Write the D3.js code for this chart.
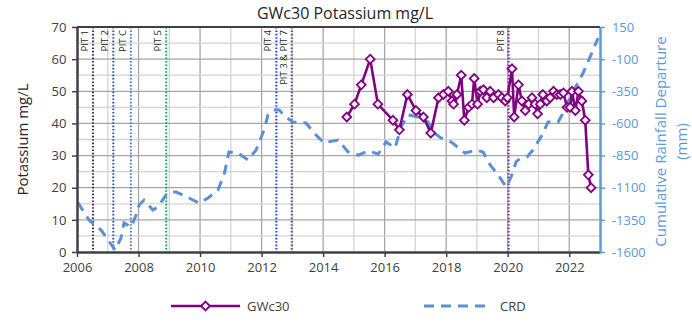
<!DOCTYPE html>
<html>
<head>
<meta charset="utf-8">
<script src="https://cdn.jsdelivr.net/npm/d3@7"></script>
<style>
  html, body { margin: 0; padding: 0; background: #fff; }
  svg { display: block; font-family: "Open Sans", "Liberation Sans", sans-serif; }
</style>
</head>
<body>
<svg id="chart" width="692" height="322"></svg>
<script>
// Potassium concentration at GWc30 (decimal year, mg/L)
const gwcYears = [2014.77, 2015.02, 2015.24, 2015.53, 2015.78, 2016.27, 2016.48, 2016.74, 2017.02, 2017.26,
  2017.50, 2017.75, 2017.91, 2018.07, 2018.19, 2018.24, 2018.35, 2018.49, 2018.59, 2018.73,
  2018.84, 2018.91, 2019.02, 2019.11, 2019.21, 2019.32, 2019.43, 2019.54, 2019.70, 2019.81,
  2019.92, 2019.99, 2020.14, 2020.21, 2020.35, 2020.46, 2020.57, 2020.68, 2020.79, 2020.89,
  2020.97, 2021.06, 2021.14, 2021.27, 2021.38, 2021.49, 2021.60, 2021.71, 2021.81, 2021.93,
  2022.03, 2022.09, 2022.20, 2022.30, 2022.41, 2022.52, 2022.62, 2022.71];
const gwcValues = [42, 46, 52, 60, 46, 41, 38, 49, 44, 42,
  37, 48, 49, 50, 47, 46, 49, 55, 41, 45,
  46, 54, 46, 50, 50.5, 48, 50, 48, 49, 48,
  47, 48, 57, 42, 52, 47, 44, 46, 48, 46,
  43, 46, 49, 47, 48, 50, 49, 49, 49.5, 45,
  45, 50, 44, 50, 47, 41, 24, 20];

// Cumulative rainfall departure (decimal year, mm)
const crdYears = [2006.02, 2006.39, 2006.78, 2007.24, 2007.43, 2007.53, 2007.76, 2007.92, 2008.02, 2008.18,
  2008.47, 2008.63, 2008.89, 2009.06, 2009.22, 2009.64, 2009.97, 2010.26, 2010.58, 2010.78,
  2010.94, 2011.23, 2011.56, 2011.82, 2012.08, 2012.21, 2012.40, 2012.57, 2012.79, 2013.02,
  2013.44, 2013.77, 2014.03, 2014.16, 2014.49, 2014.81, 2015.14, 2015.46, 2015.79, 2016.05,
  2016.34, 2016.53, 2016.76, 2017.09, 2017.41, 2017.57, 2017.83, 2018.16, 2018.61, 2018.97,
  2019.20, 2019.43, 2019.69, 2019.95, 2020.11, 2020.27, 2020.34, 2020.63, 2020.82, 2021.12,
  2021.31, 2021.64, 2021.80, 2021.96, 2022.19, 2022.45, 2022.68, 2022.84, 2022.94];
const crdValues = [-1213, -1351, -1429, -1584, -1491, -1374, -1406, -1312, -1234, -1196,
  -1273, -1250, -1157, -1133, -1133, -1180, -1219, -1180, -1118, -1001,
  -822, -830, -884, -807, -651, -534, -496, -496, -550, -589,
  -597, -690, -752, -744, -729, -822, -846, -814, -838, -744,
  -791, -628, -534, -550, -589, -667, -713, -744, -830, -807,
  -822, -923, -1001, -1094, -1017, -900, -884, -861, -807, -690,
  -589, -589, -519, -433, -324, -208, -83, 10, 64];

// Pit events marked on the time axis
const pitLabels = ["PIT 1", "PIT 2", "PIT C", "PIT 5", "PIT 4", "PIT 3 & PIT 7", "PIT 8"];
const pitYears = [2006.52, 2007.18, 2007.75, 2008.9, 2012.48, 2012.98, 2020.03];
const pitColors = ["#3f3151", "#2f5597", "#4a7ebb", "#00b050", "#1a3cf0", "#5f497a", "#7030a0"];

const xTicks = [2006, 2008, 2010, 2012, 2014, 2016, 2018, 2020, 2022];
const leftTicks = [0, 10, 20, 30, 40, 50, 60, 70];
const rightTicks = [-1600, -1350, -1100, -850, -600, -350, -100, 150];

const svg = d3.select("#chart");
const L = 77, R = 600, T = 27, B = 252;
const x = d3.scaleLinear().domain([2006, 2023]).range([L, R]);
const y = d3.scaleLinear().domain([0, 70]).range([B, T]);
const y2 = d3.scaleLinear().domain([-1600, 150]).range([B, T]);

const purple = "#800080";
const blue = "#5b8fd6";
const axisBlue = "#5b9bd5";
const plain = d => String(d);

// grid: yearly vertical lines, every 5 mg/L horizontal
const grid = svg.append("g");
d3.range(2007, 2023).forEach(yr => {
  grid.append("line").attr("x1", x(yr)).attr("x2", x(yr)).attr("y1", T).attr("y2", B)
    .attr("stroke", yr % 2 === 0 ? "#a6a6a6" : "#d4d4d4").attr("stroke-width", 1.3);
});
d3.range(5, 70, 5).forEach(v => {
  grid.append("line").attr("x1", L).attr("x2", R).attr("y1", y(v)).attr("y2", y(v))
    .attr("stroke", v % 10 === 0 ? "#a6a6a6" : "#d4d4d4").attr("stroke-width", 1.3);
});

// pit markers
const pits = svg.append("g");
pitYears.forEach((py, i) => {
  pits.append("line").attr("x1", x(py)).attr("x2", x(py)).attr("y1", T).attr("y2", B)
    .attr("stroke", pitColors[i]).attr("stroke-width", 2).attr("stroke-dasharray", "1.6,1.8");
  pits.append("text")
    .attr("transform", `translate(${x(py) - 5},${T + 3}) rotate(-90)`)
    .attr("text-anchor", "end").attr("font-size", 9.5).attr("fill", "#262626")
    .text(pitLabels[i]);
});

// CRD dashed line on the right axis
const crd = crdYears.map((d, i) => [d, crdValues[i]]);
svg.append("path").datum(crd)
  .attr("d", d3.line().x(d => x(d[0])).y(d => y2(d[1])))
  .attr("fill", "none").attr("stroke", blue).attr("stroke-width", 3)
  .attr("stroke-dasharray", "10,7");

// GWc30 series
const gwc = gwcYears.map((d, i) => [d, gwcValues[i]]);
svg.append("path").datum(gwc)
  .attr("d", d3.line().x(d => x(d[0])).y(d => y(d[1])))
  .attr("fill", "none").attr("stroke", purple).attr("stroke-width", 2.6);
const diamond = d3.symbol().type(d3.symbolDiamond2).size(50);
svg.append("g").selectAll("path").data(gwc).join("path")
  .attr("d", diamond)
  .attr("transform", d => `translate(${x(d[0])},${y(d[1])})`)
  .attr("fill", "#fbf3fb").attr("stroke", purple).attr("stroke-width", 1.8);

// frame: top and bottom/left dark, right axis blue
svg.append("line").attr("x1", L).attr("x2", R).attr("y1", T).attr("y2", T)
  .attr("stroke", "#404040").attr("stroke-width", 2);

const xAxis = svg.append("g").attr("transform", `translate(0,${B})`)
  .call(d3.axisBottom(x).tickValues(xTicks).tickFormat(plain).tickSize(5).tickSizeOuter(0));
xAxis.select(".domain").attr("stroke", "#404040").attr("stroke-width", 2.5);
xAxis.selectAll(".tick line").attr("stroke", "#404040").attr("stroke-width", 1.5);
xAxis.selectAll(".tick text").attr("font-size", 13).attr("fill", "#404040")
  .attr("font-family", "Open Sans, sans-serif").attr("dy", "0.9em");

const yAxis = svg.append("g").attr("transform", `translate(${L},0)`)
  .call(d3.axisLeft(y).tickValues(leftTicks).tickFormat(plain).tickSize(5).tickSizeOuter(0));
yAxis.select(".domain").attr("stroke", "#404040").attr("stroke-width", 2.5);
yAxis.selectAll(".tick line").attr("stroke", "#404040").attr("stroke-width", 1.5);
yAxis.selectAll(".tick text").attr("font-size", 13).attr("fill", "#404040")
  .attr("font-family", "Open Sans, sans-serif").attr("dx", "-0.2em");

const y2Axis = svg.append("g").attr("transform", `translate(${R},0)`)
  .call(d3.axisRight(y2).tickValues(rightTicks).tickFormat(plain).tickSize(5).tickSizeOuter(0));
y2Axis.select(".domain").attr("stroke", axisBlue).attr("stroke-width", 2.5);
y2Axis.selectAll(".tick line").attr("stroke", axisBlue).attr("stroke-width", 1.5);
y2Axis.selectAll(".tick text").attr("font-size", 13).attr("fill", axisBlue)
  .attr("font-family", "Open Sans, sans-serif").attr("dx", "0.3em");

// titles
svg.append("text").attr("x", 345).attr("y", 19).attr("text-anchor", "middle")
  .attr("font-size", 16).attr("fill", "#262626").text("GWc30 Potassium mg/L");
svg.append("text").attr("transform", `translate(28,${(T + B) / 2}) rotate(-90)`)
  .attr("text-anchor", "middle").attr("font-size", 15).attr("fill", "#262626")
  .text("Potassium mg/L");
svg.append("text").attr("transform", `translate(666,${(T + B) / 2 + 2}) rotate(-90)`)
  .attr("text-anchor", "middle").attr("font-size", 15).attr("fill", axisBlue)
  .text("Cumulative Rainfall Departure");
svg.append("text").attr("transform", `translate(687,${(T + B) / 2 + 2}) rotate(-90)`)
  .attr("text-anchor", "middle").attr("font-size", 15).attr("fill", axisBlue)
  .text("(mm)");

// legend
const lg = svg.append("g");
lg.append("line").attr("x1", 171).attr("x2", 240).attr("y1", 306).attr("y2", 306)
  .attr("stroke", purple).attr("stroke-width", 2.6);
lg.append("path").attr("d", diamond).attr("transform", "translate(205.5,306)")
  .attr("fill", "#fbf3fb").attr("stroke", purple).attr("stroke-width", 1.8);
lg.append("text").attr("x", 247).attr("y", 311).attr("font-size", 13).attr("fill", "#404040").text("GWc30");
lg.append("line").attr("x1", 424).attr("x2", 490).attr("y1", 306).attr("y2", 306)
  .attr("stroke", blue).attr("stroke-width", 3).attr("stroke-dasharray", "10,7");
lg.append("text").attr("x", 500).attr("y", 311).attr("font-size", 13).attr("fill", "#404040").text("CRD");
</script>
</body>
</html>
